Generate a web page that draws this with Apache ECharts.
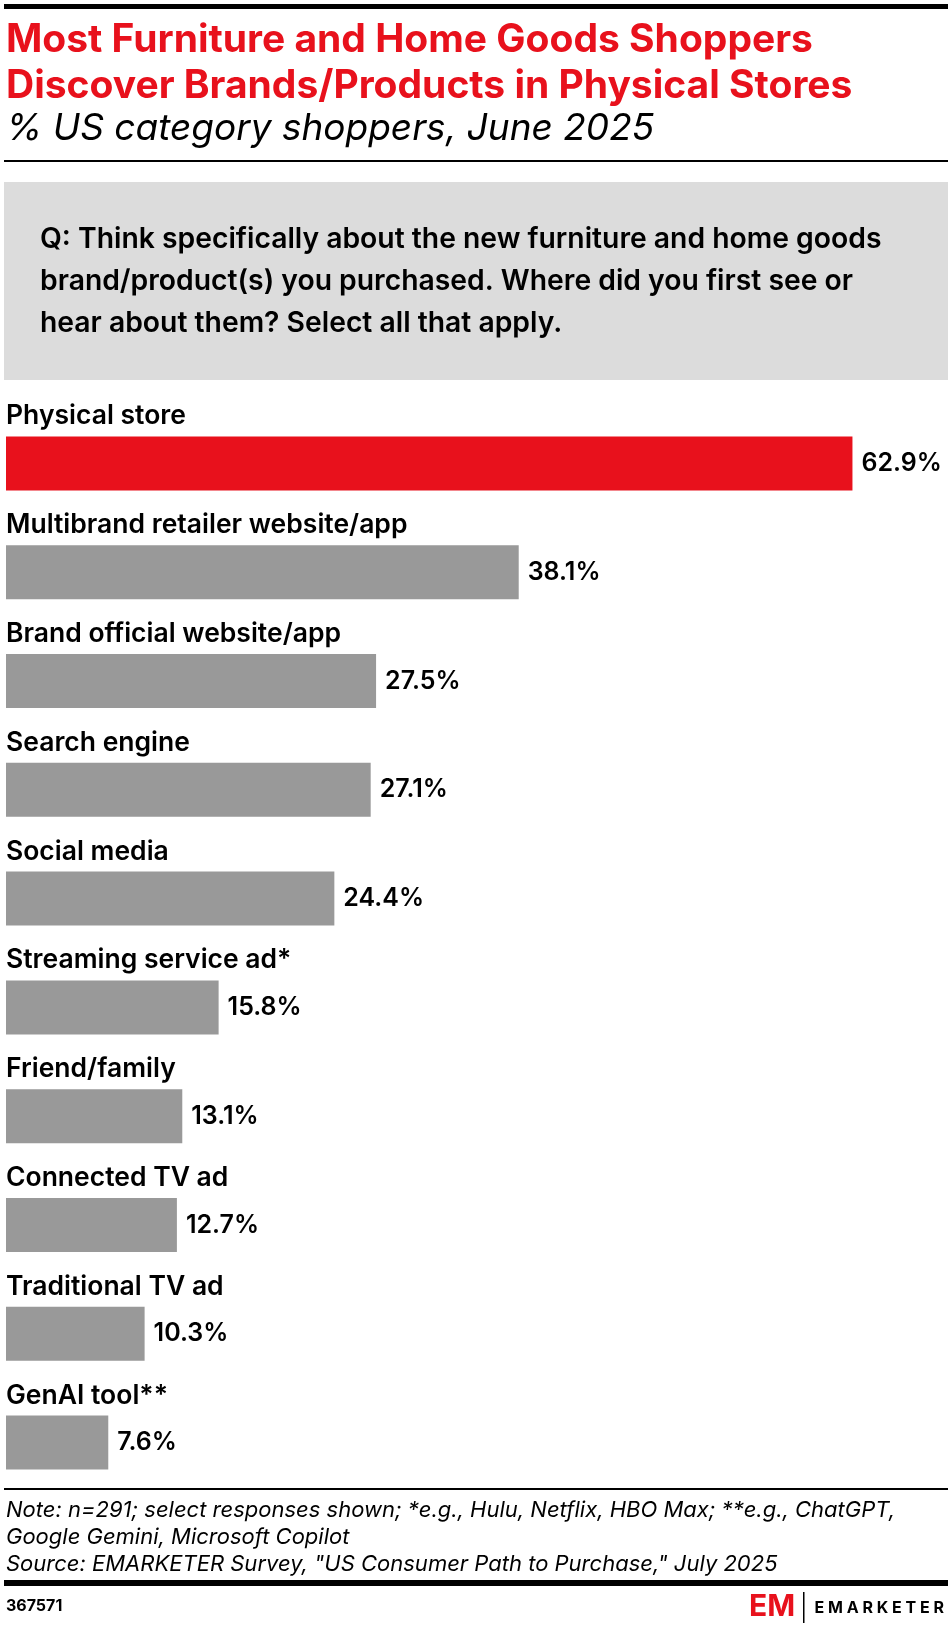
<!DOCTYPE html>
<html>
<head>
<meta charset="utf-8">
<script src="https://cdn.jsdelivr.net/npm/echarts@6/dist/echarts.min.js"></script>
<style>
html,body{margin:0;padding:0;background:#fff;}
#c{width:948px;height:1628px;}
</style>
</head>
<body>
<div id="c"></div>
<script>
const categories = [
  "Physical store",
  "Multibrand retailer website/app",
  "Brand official website/app",
  "Search engine",
  "Social media",
  "Streaming service ad*",
  "Friend/family",
  "Connected TV ad",
  "Traditional TV ad",
  "GenAI tool**"
];
const values = [62.9, 38.1, 27.5, 27.1, 24.4, 15.8, 13.1, 12.7, 10.3, 7.6];
const highlightIndex = 0;

const titleLines = [
  "Most Furniture and Home Goods Shoppers",
  "Discover Brands/Products in Physical Stores"
];
const subtitle = "% US category shoppers, June 2025";
const questionLines = [
  "Q: Think specifically about the new furniture and home goods",
  "brand/product(s) you purchased. Where did you first see or",
  "hear about them? Select all that apply."
];
const noteLines = [
  "Note: n=291; select responses shown; *e.g., Hulu, Netflix, HBO Max; **e.g., ChatGPT,",
  "Google Gemini, Microsoft Copilot",
  "Source: EMARKETER Survey, \"US Consumer Path to Purchase,\" July 2025"
];
const chartId = "367571";

const FONT = "Inter, sans-serif";
const RED = "#e8111c";
const GRAY = "#999999";

const chart = echarts.init(document.getElementById('c'), null, {renderer: 'canvas'});

const graphics = [
  {type:'rect', shape:{x:4,y:4,width:944,height:5}, style:{fill:'#000'}},
  {type:'rect', shape:{x:4,y:160,width:944,height:2}, style:{fill:'#000'}},
  {type:'rect', shape:{x:4,y:182,width:944,height:198}, style:{fill:'#dcdcdc'}},
  {type:'rect', shape:{x:4,y:1488,width:944,height:2}, style:{fill:'#000'}},
  {type:'rect', shape:{x:4,y:1580,width:944,height:6}, style:{fill:'#000'}},
  {type:'rect', shape:{x:803,y:1592,width:1.5,height:31}, style:{fill:'#000'}}
];
titleLines.forEach((t,i)=>graphics.push({type:'text', style:{text:t, x:6, y:40+i*46, font:"bold 39px "+FONT, fill:RED, verticalAlign:'middle'}}));
graphics.push({type:'text', style:{text:subtitle, x:6, y:129, font:"italic 37px "+FONT, fill:'#000', verticalAlign:'middle'}});
questionLines.forEach((t,i)=>graphics.push({type:'text', style:{text:t, x:40, y:239+i*42, font:"600 28.3px "+FONT, fill:'#000', verticalAlign:'middle'}}));
noteLines.forEach((t,i)=>graphics.push({type:'text', style:{text:t, x:6, y:1510+i*27, font:"italic 22px "+FONT, fill:'#000', verticalAlign:'middle'}}));
graphics.push({type:'text', style:{text:chartId, x:6, y:1606, font:"bold 16px "+FONT, fill:'#000', verticalAlign:'middle'}});
graphics.push({type:'text', style:{text:"EM", x:772, y:1607, font:"bold 30px "+FONT, fill:RED, verticalAlign:'middle', align:'center'}});
graphics.push({type:'text', style:{text:"E M A R K E T E R", x:944, y:1608, font:"bold 16px "+FONT, fill:'#000', verticalAlign:'middle', align:'right'}});

chart.setOption({
  animation:false,
  backgroundColor:'#fff',
  grid:{left:6, top:409, width:943, height:1088},
  xAxis:{type:'value', min:0, max:70, show:false},
  yAxis:{
    type:'category', inverse:true, data:categories,
    axisLine:{show:false}, axisTick:{show:false}, axisLabel:{show:false}
  },
  series:[{
    type:'bar', barWidth:54,
    data: values.map((v,i)=>({value:v, itemStyle:{color: i===highlightIndex?RED:GRAY}})),
    label:{show:true, position:'right', distance:9, fontFamily:FONT, fontWeight:600, fontSize:25, color:'#000',
      formatter:p=>p.value.toFixed(1)+'%'}
  },{
    type:'scatter', symbolSize:0, silent:true,
    itemStyle:{opacity:1, color:'#000'},
    data: categories.map(c=>[0,c]),
    label:{show:true, position:'right', distance:0, offset:[0,-47], fontFamily:FONT, fontWeight:600, fontSize:26.5, color:'#000', opacity:1,
      formatter:p=>p.value[1]},
    emphasis:{disabled:true}
  }],
  graphic: graphics
});
</script>
</body>
</html>
